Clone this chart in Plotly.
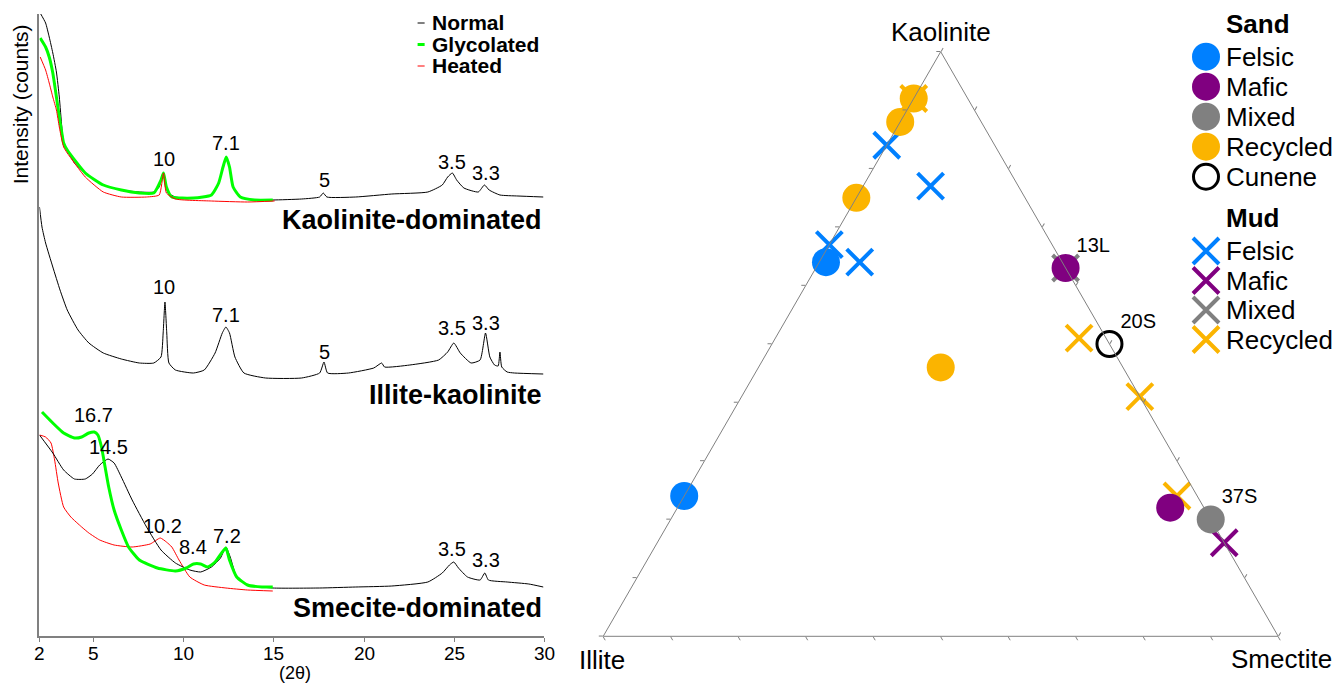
import plotly.graph_objects as go

W, H = 1337, 684
FONT = "Liberation Sans, Arial, sans-serif"

# ---------------- XRD data (2theta, intensity in arbitrary offset counts) ----------------
kao_tt_normal = [2.04, 2.34, 2.54, 2.74, 2.94, 3.1, 3.24, 3.34, 3.54, 3.94, 4.54, 5.54, 6.54, 7.54, 8.34, 8.64, 8.78,
                 8.88, 8.98, 9.14, 9.54, 10.54, 11.54, 11.94, 12.18, 12.36, 12.54, 12.74, 13.14, 13.94, 14.94, 16.54,
                 17.54, 17.74, 17.94, 19.54, 21.54, 23.54, 24.34, 24.64, 24.9, 25.14, 25.54, 26.34, 26.68, 26.94,
                 27.54, 28.54, 29.94]
kao_normal = [621, 611, 597, 581, 562, 537, 507, 491, 484, 471, 461, 449, 444, 442, 442, 447, 457,
              461, 452, 441, 437, 436, 439, 451, 467, 477, 467, 447, 437, 434, 434, 435,
              437, 441, 437, 437, 440, 442, 449, 457, 461, 454, 446, 442, 449, 444,
              439, 438, 437]
kao_tt_glyc = [2.04, 2.34, 2.54, 2.74, 2.94, 3.1, 3.24, 3.34, 3.54, 4.54, 5.54, 6.54, 7.54, 8.34, 8.74, 8.88, 9.04,
               9.34, 10.54, 11.54, 11.94, 12.18, 12.36, 12.54, 12.74, 13.14, 13.94, 14.94]
kao_glyc = [596, 587, 577, 561, 537, 517, 501, 491, 484, 461, 449, 444, 441, 441, 454, 461, 447,
            437, 436, 439, 451, 467, 477, 467, 447, 437, 434, 434]
kao_tt_heat = [2.04, 2.34, 2.54, 2.74, 2.94, 3.1, 3.24, 3.34, 3.54, 4.54, 5.54, 6.54, 7.94, 8.64, 8.88, 9.04, 9.54,
               11.54, 13.54, 15.04]
kao_heat = [577, 564, 551, 537, 524, 507, 494, 487, 481, 457, 442, 437, 437, 439, 461, 441, 435,
            433, 432, 433]

ik_tt_normal = [2.0, 2.14, 2.34, 2.74, 3.14, 3.54, 4.14, 4.74, 5.54, 6.54, 7.54, 8.34, 8.74, 8.86, 8.96, 9.06, 9.18,
                9.54, 10.54, 11.14, 11.74, 12.14, 12.34, 12.54, 12.84, 13.34, 14.54, 16.54, 17.54, 17.78, 17.98,
                19.14, 20.54, 20.98, 21.14, 22.54, 24.14, 24.64, 24.98, 25.34, 25.94, 26.44, 26.74, 26.98, 27.24,
                27.44, 27.54, 27.64, 27.94, 28.34, 29.94]
ik_normal = [427, 407, 391, 367, 344, 324, 304, 291, 281, 275, 271, 271, 277, 301, 332, 301, 271,
             264, 261, 264, 281, 301, 307, 301, 277, 261, 256, 256, 261, 272, 261,
             261, 266, 271, 267, 269, 274, 282, 291, 281, 271, 274, 301, 277, 269,
             268, 282, 267, 262, 261, 260]

sm_tt_normal = [2.0, 2.74, 3.34, 3.94, 4.54, 4.94, 5.34, 5.8, 6.14, 6.54, 7.14, 7.94, 8.74, 9.54, 10.34, 10.94, 11.54,
                12.04, 12.34, 12.58, 12.94, 13.54, 14.94, 17.54, 19.54, 21.54, 23.54, 24.34, 24.74, 24.98, 25.24,
                25.74, 26.44, 26.7, 26.9, 27.94, 29.14, 29.94]
sm_normal = [199, 181, 164, 155, 155, 160, 169, 175, 171, 157, 134, 107, 84, 71, 64, 62, 67,
             76, 87, 77, 57, 49, 46, 46, 47, 48, 52, 61, 69, 72, 66,
             57, 54, 61, 54, 52, 50, 47]
sm_tt_glyc = [2.14, 2.74, 3.34, 3.94, 4.34, 4.74, 5.04, 5.24, 5.44, 5.64, 5.84, 6.14, 6.54, 6.94, 7.54, 8.54, 9.54,
              10.14, 10.54, 10.94, 11.34, 11.74, 12.14, 12.34, 12.54, 12.94, 13.54, 14.34, 14.94]
sm_glyc = [222, 211, 201, 196, 197, 201, 202, 199, 187, 167, 147, 124, 104, 87, 74, 66, 63,
           66, 70, 70, 67, 72, 82, 86, 74, 57, 49, 47, 47]
sm_tt_heat = [2.0, 2.34, 2.64, 2.84, 3.04, 3.34, 3.74, 4.34, 4.74, 5.34, 6.14, 7.14, 8.14, 8.7, 9.04, 9.34, 9.74,
              10.34, 11.14, 12.34, 13.54, 14.94]
sm_heat = [199, 197, 191, 174, 151, 127, 117, 107, 101, 94, 89, 87, 90, 96, 92, 87, 74,
           57, 49, 46, 44, 43]

# peak labels (d-spacing, Å) with their 2theta and intensity positions
peak_text = ["10", "7.1", "5", "3.5", "3.3",
             "10", "7.1", "5", "3.5", "3.3",
             "16.7", "14.5", "10.2", "8.4", "7.2", "3.5", "3.3"]
peak_tt = [8.88, 12.36, 17.8, 24.9, 26.74,
           8.88, 12.36, 17.8, 24.9, 26.74,
           5.0, 5.84, 8.8, 10.5, 12.4, 24.9, 26.74]
peak_y = [475, 491, 454, 472, 461,
          347, 319, 282, 306, 311,
          219, 187, 108, 87, 98, 85, 74]

panel_names = ["Kaolinite-dominated", "Illite-kaolinite", "Smecite-dominated"]
tick_vals = [2, 5, 10, 15, 20, 25, 30]
treat_names = ["Normal", "Glycolated", "Heated"]
treat_colors = ["#000000", "#00FF00", "#FF0000"]
treat_widths = [1, 3, 1]

# ---------------- Ternary data (fractions: Kaolinite, Illite, Smectite) ----------------
sand_felsic_k, sand_felsic_i, sand_felsic_s = [0.64, 0.24], [0.35, 0.76], [0.01, 0.0]
sand_mafic_k, sand_mafic_i, sand_mafic_s = [0.63, 0.22], [0.0, 0.05], [0.37, 0.73]
sand_mixed_k, sand_mixed_i, sand_mixed_s = [0.20], [0.0], [0.80]
sand_rec_k, sand_rec_i, sand_rec_s = [0.75, 0.46, 0.88, 0.92], [0.25, 0.27, 0.12, 0.08], [0.0, 0.27, 0.0, 0.0]
cunene_k, cunene_i, cunene_s = [0.50], [0.0], [0.50]
mud_felsic_k, mud_felsic_i, mud_felsic_s = [0.84, 0.77, 0.67, 0.64], [0.16, 0.13, 0.33, 0.30], [0.0, 0.10, 0.0, 0.06]
mud_mafic_k, mud_mafic_i, mud_mafic_s = [0.16], [0.0], [0.84]
mud_mixed_k, mud_mixed_i, mud_mixed_s = [0.63], [0.0], [0.37]
mud_rec_k, mud_rec_i, mud_rec_s = [0.51, 0.41, 0.24, 0.92], [0.04, 0.0, 0.03, 0.08], [0.45, 0.59, 0.73, 0.0]

# sample labels
sample_lab = ["13L", "20S", "37S"]
sample_k = [0.63, 0.50, 0.20]
sample_i = [0.0, 0.0, 0.0]
sample_s = [0.37, 0.50, 0.80]

vertex_names = ["Kaolinite", "Illite", "Smectite"]
group_names = ["Felsic", "Mafic", "Mixed", "Recycled"]
group_colors = ["#0080FF", "#800080", "#808080", "#FBB400"]


# layout helpers: target pixel -> paper fraction (slight horizontal compensation for the capture)
def dx(x):
    return (x - 3.75) / 0.9944


def px(x):
    return dx(x) / W


def py(y):
    return 1 - y / H


fig = go.Figure()

# ---------------- Left panel: XRD patterns ----------------
curves = [
    (kao_tt_normal, kao_normal, 0), (kao_tt_glyc, kao_glyc, 1), (kao_tt_heat, kao_heat, 2),
    (ik_tt_normal, ik_normal, 0),
    (sm_tt_heat, sm_heat, 2), (sm_tt_normal, sm_normal, 0), (sm_tt_glyc, sm_glyc, 1),
]
for tt, yy, k in curves:
    fig.add_trace(go.Scatter(x=tt, y=yy, mode="lines", showlegend=False, hoverinfo="skip",
                             line=dict(color=treat_colors[k], width=treat_widths[k], shape="spline", smoothing=0.5),
                             xaxis="x", yaxis="y"))

for t, xx, yy in zip(peak_text, peak_tt, peak_y):
    fig.add_annotation(x=xx, y=yy, xref="x", yref="y", text=t, showarrow=False,
                       font=dict(family=FONT, size=20, color="black"), xanchor="center", yanchor="middle")

# x tick labels (placed on the x axis values)
for tv in tick_vals:
    fig.add_annotation(x=tv, y=py(653), xref="x", yref="paper", text=str(tv), showarrow=False,
                       font=dict(family=FONT, size=19, color="black"), xanchor="center", yanchor="middle")

for name, ypx in zip(panel_names, [220, 395, 608]):
    fig.add_annotation(x=px(545), y=py(ypx), xref="paper", yref="paper", text="<b>%s</b>" % name,
                       showarrow=False, font=dict(family=FONT, size=27, color="black"),
                       xanchor="right", yanchor="middle")

fig.add_annotation(x=px(24), y=py(104), xref="paper", yref="paper", text="Intensity (counts)",
                   textangle=-90, showarrow=False, font=dict(family=FONT, size=21, color="black"),
                   xanchor="center", yanchor="middle")
fig.add_annotation(x=px(297), y=py(673), xref="paper", yref="paper", text="(2θ)",
                   showarrow=False, font=dict(family=FONT, size=18, color="black"),
                   xanchor="center", yanchor="middle")

# XRD legend
for i, (n, c, w) in enumerate(zip(treat_names, treat_colors, treat_widths)):
    yl = 23 + 21.5 * i
    fig.add_shape(type="line", xref="paper", yref="paper", x0=px(419), x1=px(426), y0=py(yl), y1=py(yl),
                  line=dict(color=c, width=w))
    fig.add_annotation(x=px(431), y=py(yl), xref="paper", yref="paper", text="<b>%s</b>" % n,
                       showarrow=False, font=dict(family=FONT, size=21, color="black"),
                       xanchor="left", yanchor="middle")


# ---------------- Right panel: ternary ----------------
def tern(k, i, s, name, color, symbol, size, lw, lcolor=None):
    fig.add_trace(go.Scatterternary(
        a=k, b=i, c=s, name=name, showlegend=False, cliponaxis=False, mode="markers",
        marker=dict(symbol=symbol, size=size, color=color,
                    line=dict(width=lw, color=lcolor if lcolor else color))))


XSYM, XSIZE, XLW = "x-thin-open", 26, 4
tern(mud_felsic_k, mud_felsic_i, mud_felsic_s, "Mud Felsic", group_colors[0], XSYM, XSIZE, XLW)
tern(mud_mafic_k, mud_mafic_i, mud_mafic_s, "Mud Mafic", group_colors[1], XSYM, XSIZE, XLW)
tern(mud_mixed_k, mud_mixed_i, mud_mixed_s, "Mud Mixed", group_colors[2], XSYM, XSIZE, XLW)
tern(mud_rec_k, mud_rec_i, mud_rec_s, "Mud Recycled", group_colors[3], XSYM, XSIZE, XLW)
tern(sand_felsic_k, sand_felsic_i, sand_felsic_s, "Sand Felsic", group_colors[0], "circle", 28, 0)
tern(sand_mafic_k, sand_mafic_i, sand_mafic_s, "Sand Mafic", group_colors[1], "circle", 28, 0)
tern(sand_mixed_k, sand_mixed_i, sand_mixed_s, "Sand Mixed", group_colors[2], "circle", 28, 0)
tern(sand_rec_k, sand_rec_i, sand_rec_s, "Sand Recycled", group_colors[3], "circle", 28, 0)
tern(cunene_k, cunene_i, cunene_s, "Cunene", "black", "circle-open", 25, 3, "black")
fig.add_trace(go.Scatterternary(
    a=sample_k, b=sample_i, c=sample_s, mode="markers+text", text=sample_lab, textposition="top right",
    showlegend=False, cliponaxis=False, hoverinfo="skip",
    textfont=dict(family=FONT, size=20, color="black"),
    marker=dict(size=16, color="rgba(0,0,0,0)", line=dict(width=0))))

axstyle = dict(showticklabels=False, ticks="outside", ticklen=4, tickcolor="#808080", tickwidth=1,
               linecolor="#808080", linewidth=1, showgrid=False, tick0=0, dtick=0.1, title=dict(text=""))
tfont = dict(family=FONT, size=26, color="black")

for t, (vx, vy) in zip(vertex_names, [(939, 32), (602, 660), (1278, 659)]):
    fig.add_annotation(x=px(vx), y=py(vy), xref="paper", yref="paper", text=t, showarrow=False,
                       font=tfont, xanchor="center", yanchor="middle")

# ---------------- Right legend (glyphs on an overlay pixel axis) ----------------
leg_x = dx(1203)
sand_rows = [56.7 + 30 * i for i in range(5)]
mud_rows = [251 + 29.5 * i for i in range(4)]
fig.add_trace(go.Scatter(x=[leg_x] * 4, y=sand_rows[:4], mode="markers", showlegend=False, hoverinfo="skip",
                         marker=dict(size=28, color=group_colors, line=dict(width=0)),
                         xaxis="x2", yaxis="y2", cliponaxis=False))
fig.add_trace(go.Scatter(x=[leg_x], y=[sand_rows[4]], mode="markers", showlegend=False, hoverinfo="skip",
                         marker=dict(size=25, symbol="circle-open", color="black", line=dict(width=3, color="black")),
                         xaxis="x2", yaxis="y2", cliponaxis=False))
fig.add_trace(go.Scatter(x=[leg_x] * 4, y=mud_rows, mode="markers", showlegend=False, hoverinfo="skip",
                         marker=dict(size=XSIZE, symbol=XSYM, color=group_colors,
                                     line=dict(width=XLW, color=group_colors)),
                         xaxis="x2", yaxis="y2", cliponaxis=False))
for t, yy in zip(["<b>Sand</b>"] + group_names + ["Cunene"], [24] + sand_rows):
    fig.add_annotation(x=px(1221), y=py(yy), xref="paper", yref="paper", text=t, showarrow=False,
                       font=tfont, xanchor="left", yanchor="middle")
for t, yy in zip(["<b>Mud</b>"] + group_names, [218] + mud_rows):
    fig.add_annotation(x=px(1221), y=py(yy), xref="paper", yref="paper", text=t, showarrow=False,
                       font=tfont, xanchor="left", yanchor="middle")

tri_w = 675.0
tri_cx = 939.2
fig.update_layout(
    width=W, height=H, margin=dict(l=0, r=0, t=0, b=0, pad=0),
    paper_bgcolor="white", plot_bgcolor="rgba(0,0,0,0)",
    font=dict(family=FONT, color="black"),
    showlegend=False,
    xaxis=dict(domain=[px(43), px(545)], range=[2, 30], tickvals=tick_vals, ticks="outside", ticklen=4,
               tickcolor="#808080", showline=True, linecolor="#808080", linewidth=1.5, showgrid=False,
               zeroline=False, showticklabels=False),
    yaxis=dict(domain=[py(636), py(14)], range=[-2, 620], showticklabels=False, ticks="", showline=True,
               linecolor="#808080", linewidth=1.5, showgrid=False, zeroline=False),
    xaxis2=dict(domain=[0, 1], range=[0, W], visible=False, fixedrange=True),
    yaxis2=dict(domain=[0, 1], range=[H, 0], visible=False, fixedrange=True),
    ternary=dict(
        domain=dict(x=[(dx(tri_cx) - tri_w / 2) / W, (dx(tri_cx) + tri_w / 2) / W],
                    y=[py(636.3), py(636.3 - tri_w * 0.8660254)]),
        sum=1, bgcolor="rgba(0,0,0,0)",
        aaxis=axstyle, baxis=axstyle, caxis=axstyle,
    ),
)

post = ("document.documentElement.style.margin='0';document.body.style.margin='0';"
        "document.documentElement.style.overflow='hidden';document.body.style.overflow='hidden';")
fig.write_html("out.html", config={"displayModeBar": False}, post_script=post)
